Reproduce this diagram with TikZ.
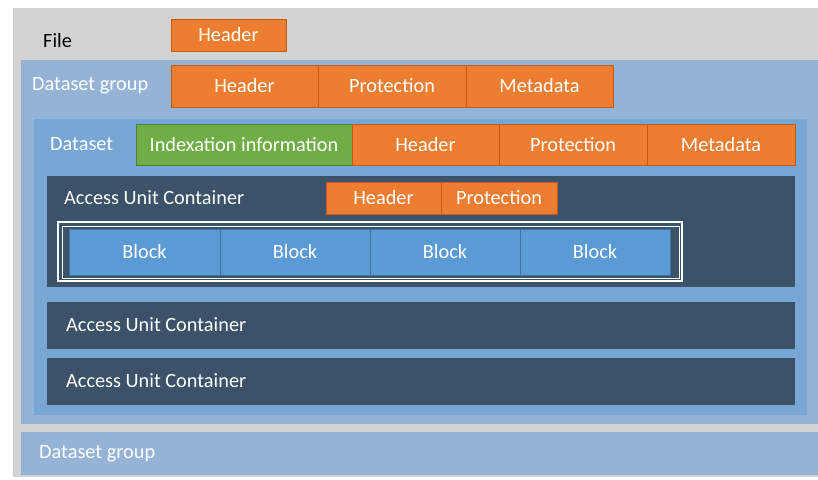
\documentclass[tikz,border=0pt]{standalone}
\usepackage{fontspec}
\setmainfont{Carlito}
\definecolor{filegrey}{HTML}{D3D3D3}
\definecolor{dgblue}{HTML}{95B3D7}
\definecolor{dsblue}{HTML}{79A7D5}
\definecolor{aucdark}{HTML}{3B5269}
\definecolor{blockblue}{HTML}{5B9BD5}
\definecolor{blockedge}{HTML}{41719C}
\definecolor{orangefill}{HTML}{ED7D31}
\definecolor{orangeedge}{HTML}{C55A11}
\definecolor{greenfill}{HTML}{70AD47}
\definecolor{greenedge}{HTML}{507E32}
\tikzset{
  area/.style={inner sep=0pt, outer sep=0pt},
  field/.style={area, fill=orangefill, draw=orangeedge, line width=0.9pt, text=white, font=\fontsize{20.3}{22}\selectfont},
  idxfield/.style={field, fill=greenfill, draw=greenedge},
  blockcell/.style={area, fill=blockblue, draw=blockedge, line width=0.9pt, text=white, font=\fontsize{20.3}{22}\selectfont},
  caption/.style={inner sep=0pt, anchor=base west, text=white, font=\fontsize{20.3}{22}\selectfont},
}
% #1 style, #2 name, (#3,#4) top left, (#5,#6) bottom right, #7 text
\newcommand\cell[7]{\node[#1, anchor=center, minimum width={(#5-#3)*1pt}, minimum height={(#6-#4)*1pt}] (#2) at ({(#3+#5)/2},{(#4+#6)/2}) {#7};}
\begin{document}
\begin{tikzpicture}[x=1pt, y=-1pt]
\useasboundingbox (0,0) rectangle (818,479);
% file
\cell{area, fill=filegrey}{file}{13}{8}{818}{477}{}
\node[caption, text=black] (filelbl) at (43,47) {File};
\cell{field}{fhdr}{171}{19}{286}{51}{Header}
% dataset group
\cell{area, fill=dgblue}{dg}{21}{60}{818}{424}{}
\node[caption] (dglbl) at (32,90) {Dataset group};
\cell{field}{dghdr}{171}{65}{318}{107}{Header}
\cell{field}{dgprot}{318}{65}{466}{107}{Protection}
\cell{field}{dgmeta}{466}{65}{613}{107}{Metadata}
% dataset
\cell{area, fill=dsblue}{ds}{34}{119}{807}{415}{}
\node[caption] (dslbl) at (50,150.5) {Dataset};
\cell{idxfield}{dsidx}{136}{124}{352}{165}{Indexation information}
\cell{field}{dshdr}{352}{124}{499}{165}{Header}
\cell{field}{dsprot}{499}{124}{647}{165}{Protection}
\cell{field}{dsmeta}{647}{124}{795}{165}{Metadata}
% access unit containers
\cell{area, fill=aucdark}{auca}{47}{176}{795}{287}{}
\node[caption] (aucalbl) at (64,204) {Access Unit Container};
\cell{field}{auchdr}{326}{182}{441}{214}{Header}
\cell{field}{aucprot}{441}{182}{557}{214}{Protection}
\draw[white, line width=2pt] (58,222) rectangle (682,281);
\draw[white, line width=0.9pt] (62,226) rectangle (679,278);
\cell{blockcell}{blka}{69}{229}{220}{275}{Block}
\cell{blockcell}{blkb}{220}{229}{370}{275}{Block}
\cell{blockcell}{blkc}{370}{229}{520}{275}{Block}
\cell{blockcell}{blkd}{520}{229}{670}{275}{Block}
\cell{area, fill=aucdark}{aucb}{47}{302}{795}{349}{}
\node[caption] (aucblbl) at (66,331) {Access Unit Container};
\cell{area, fill=aucdark}{aucc}{47}{358}{795}{405}{}
\node[caption] (aucclbl) at (66,387) {Access Unit Container};
% second dataset group
\cell{area, fill=dgblue}{dgb}{21}{432}{818}{475}{}
\node[caption] (dgblbl) at (39,458) {Dataset group};
\end{tikzpicture}
\end{document}
